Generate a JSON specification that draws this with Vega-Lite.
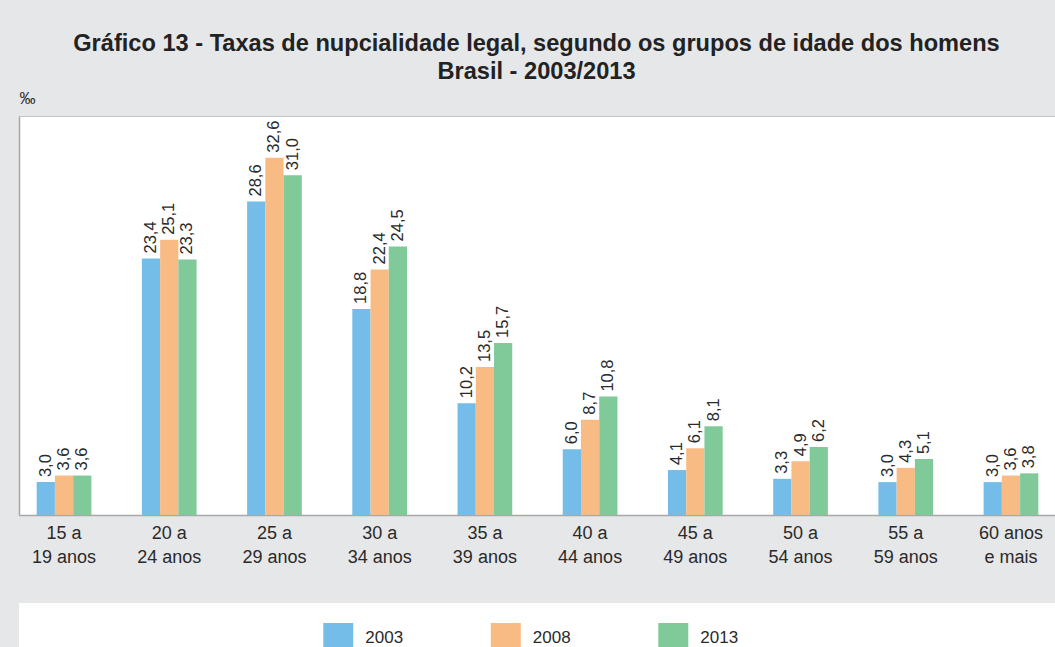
{
  "$schema": "https://vega.github.io/schema/vega-lite/v6.json",
  "background": "#e6e7e9",
  "padding": {"left": 0, "top": 31, "right": 0, "bottom": 0},
  "config": {
    "locale": {"number": {"decimal": ",", "thousands": ".", "grouping": [3], "currency": ["R$", ""]}},
    "font": "Liberation Sans",
    "concat": {"spacing": 36}
  },
  "datasets": {
    "taxas": [
      {"grupo": "15 a\n19 anos", "ano": "2003", "taxa": 3.0},
      {"grupo": "15 a\n19 anos", "ano": "2008", "taxa": 3.6},
      {"grupo": "15 a\n19 anos", "ano": "2013", "taxa": 3.6},
      {"grupo": "20 a\n24 anos", "ano": "2003", "taxa": 23.4},
      {"grupo": "20 a\n24 anos", "ano": "2008", "taxa": 25.1},
      {"grupo": "20 a\n24 anos", "ano": "2013", "taxa": 23.3},
      {"grupo": "25 a\n29 anos", "ano": "2003", "taxa": 28.6},
      {"grupo": "25 a\n29 anos", "ano": "2008", "taxa": 32.6},
      {"grupo": "25 a\n29 anos", "ano": "2013", "taxa": 31.0},
      {"grupo": "30 a\n34 anos", "ano": "2003", "taxa": 18.8},
      {"grupo": "30 a\n34 anos", "ano": "2008", "taxa": 22.4},
      {"grupo": "30 a\n34 anos", "ano": "2013", "taxa": 24.5},
      {"grupo": "35 a\n39 anos", "ano": "2003", "taxa": 10.2},
      {"grupo": "35 a\n39 anos", "ano": "2008", "taxa": 13.5},
      {"grupo": "35 a\n39 anos", "ano": "2013", "taxa": 15.7},
      {"grupo": "40 a\n44 anos", "ano": "2003", "taxa": 6.0},
      {"grupo": "40 a\n44 anos", "ano": "2008", "taxa": 8.7},
      {"grupo": "40 a\n44 anos", "ano": "2013", "taxa": 10.8},
      {"grupo": "45 a\n49 anos", "ano": "2003", "taxa": 4.1},
      {"grupo": "45 a\n49 anos", "ano": "2008", "taxa": 6.1},
      {"grupo": "45 a\n49 anos", "ano": "2013", "taxa": 8.1},
      {"grupo": "50 a\n54 anos", "ano": "2003", "taxa": 3.3},
      {"grupo": "50 a\n54 anos", "ano": "2008", "taxa": 4.9},
      {"grupo": "50 a\n54 anos", "ano": "2013", "taxa": 6.2},
      {"grupo": "55 a\n59 anos", "ano": "2003", "taxa": 3.0},
      {"grupo": "55 a\n59 anos", "ano": "2008", "taxa": 4.3},
      {"grupo": "55 a\n59 anos", "ano": "2013", "taxa": 5.1},
      {"grupo": "60 anos\ne mais", "ano": "2003", "taxa": 3.0},
      {"grupo": "60 anos\ne mais", "ano": "2008", "taxa": 3.6},
      {"grupo": "60 anos\ne mais", "ano": "2013", "taxa": 3.8}
    ],
    "legenda": [
      {"ano": 2003},
      {"ano": 2008},
      {"ano": 2013}
    ]
  },
  "resolve": {"scale": {"color": "independent", "x": "independent", "y": "independent"}},
  "columns": 1,
  "align": "none",
  "concat": [
    {
      "title": {
        "text": ["Gráfico 13 - Taxas de nupcialidade legal, segundo os grupos de idade dos homens", "Brasil - 2003/2013"],
        "fontSize": 23.6,
        "fontWeight": "bold",
        "font": "Liberation Sans",
        "color": "#222222",
        "lineHeight": 28.5,
        "anchor": "middle",
        "frame": "group",
        "dx": -1,
        "offset": 6
      },
      "width": 1037,
      "height": 399,
      "view": {"fill": "white", "stroke": "#c4c4c4"},
      "data": {"name": "taxas"},
      "encoding": {
        "x": {
          "field": "grupo",
          "type": "nominal",
          "sort": null,
          "scale": {"paddingInner": 0.48, "paddingOuter": 0.168},
          "axis": {
            "title": null,
            "ticks": false,
            "labelAngle": 0,
            "labelFontSize": 18,
            "labelColor": "#2a2a2a",
            "labelLineHeight": 24,
            "labelPadding": 9,
            "labelExpr": "split(datum.label, '\\n')",
            "domainColor": "#a8a8a8",
            "domainWidth": 1.5
          }
        },
        "xOffset": {"field": "ano", "type": "nominal", "sort": ["2003", "2008", "2013"], "scale": {"paddingInner": 0}},
        "y": {
          "field": "taxa",
          "type": "quantitative",
          "scale": {"domain": [0, 36.4], "nice": false, "zero": true},
          "axis": {
            "title": "‰",
            "titleAngle": 0,
            "titleX": 0,
            "titleY": -10,
            "titleAlign": "left",
            "titleBaseline": "bottom",
            "titleFontSize": 16,
            "titleFontWeight": "normal",
            "titleColor": "#2a2a2a",
            "ticks": false,
            "labels": false,
            "grid": false,
            "domainColor": "#a8a8a8",
            "domainWidth": 1.5,
            "minExtent": 18
          }
        }
      },
      "layer": [
        {
          "mark": {"type": "bar"},
          "encoding": {
            "color": {
              "field": "ano",
              "type": "nominal",
              "scale": {"domain": ["2003", "2008", "2013"], "range": ["#74bde9", "#f9bb84", "#80ca9a"]},
              "legend": null
            }
          }
        },
        {
          "mark": {"type": "text", "angle": 270, "align": "left", "baseline": "middle", "dx": 5, "fontSize": 16.5, "color": "#2a2a2a"},
          "encoding": {
            "text": {"field": "taxa", "type": "quantitative", "format": ".1f"}
          }
        }
      ]
    },
    {
      "width": 1055,
      "height": 70,
      "view": {"fill": "white", "stroke": null},
      "data": {"name": "legenda"},
      "encoding": {
        "x": {
          "field": "ano",
          "type": "quantitative",
          "scale": {"domain": [1993.469, 2024.962], "nice": false, "zero": false},
          "axis": null
        }
      },
      "layer": [
        {
          "mark": {"type": "point", "shape": "square", "filled": true, "size": 900, "opacity": 1, "strokeWidth": 0},
          "encoding": {
            "color": {
              "field": "ano",
              "type": "nominal",
              "scale": {"domain": [2003, 2008, 2013], "range": ["#74bde9", "#f9bb84", "#80ca9a"]},
              "legend": null
            }
          }
        },
        {
          "mark": {"type": "text", "align": "left", "baseline": "middle", "dx": 27, "fontSize": 17, "color": "#2a2a2a"},
          "encoding": {
            "text": {"field": "ano", "type": "nominal"}
          }
        }
      ]
    }
  ]
}
